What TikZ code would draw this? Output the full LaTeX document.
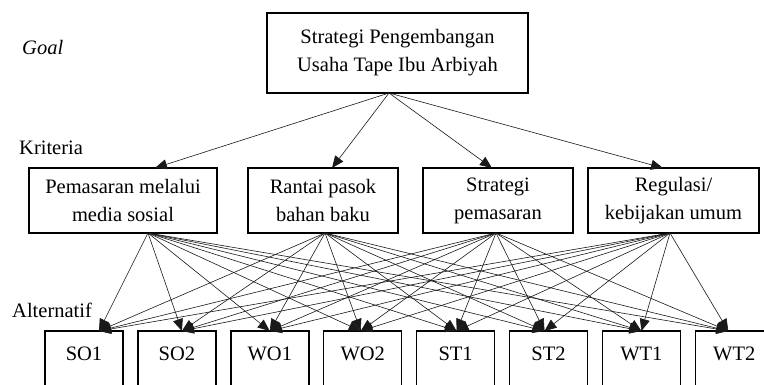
\documentclass[tikz,border=0pt]{standalone}
\usepackage{fontspec}
\setmainfont{Liberation Serif}
\usetikzlibrary{positioning,arrows.meta}

\begin{document}
\begin{tikzpicture}[
  x=1pt, y=-1pt,
  font=\fontsize{20.5}{28}\selectfont,
  >={Triangle[length=12pt,width=10pt]},
  box/.style={
    rectangle, draw=black, line width=1.5pt,
    inner sep=0pt, outer sep=0pt, align=center
  },
  goalbox/.style={box, minimum width=261pt, minimum height=80pt},
  kritbox/.style={box, minimum height=65pt},
  altbox/.style={box, minimum width=78pt, text height=29pt, text depth=41pt},
  lvl/.style={anchor=base west, inner sep=0pt},
  arr/.style={->, line width=0.6pt, draw=black!90}
]

\useasboundingbox (0,0) rectangle (764,385);
\clip (0,0) rectangle (764,385);

% goal
\node[goalbox] (goal) at (397.5,53) {Strategi Pengembangan\\Usaha Tape Ibu Arbiyah};

% kriteria
\node[kritbox, minimum width=188pt] (k1) at (123,200.5) {Pemasaran melalui\\media sosial};
\node[kritbox, minimum width=150pt] (k2) at (323,200.5) {Rantai pasok\\bahan baku};
\node[kritbox, minimum width=150pt] (k3) at (498,200.5) {Strategi\\pemasaran};
\node[kritbox, minimum width=171pt] (k4) at (673.5,200.5) {Regulasi/\\kebijakan umum};

% alternatif
\node[altbox] (so1) at (84,366) {SO1};
\node[altbox, right=14.9pt of so1] (so2) {SO2};
\node[altbox, right=14.9pt of so2] (wo1) {WO1};
\node[altbox, right=14.9pt of wo1] (wo2) {WO2};
\node[altbox, right=14.9pt of wo2] (st1) {ST1};
\node[altbox, right=14.9pt of st1] (st2) {ST2};
\node[altbox, right=14.9pt of st2] (wt1) {WT1};
\node[altbox, right=14.9pt of wt1] (wt2) {WT2};

% level labels
\node[lvl, font=\fontsize{20.5}{28}\selectfont\itshape] (goallbl) at (22,55) {Goal};
\node[lvl] (kritlbl) at (19,155) {Kriteria};
\node[lvl] (altlbl) at (12,317) {Alternatif};

\draw[arr] ([xshift=-8.5pt]goal.south) -- ([xshift=32pt]k1.north);
\draw[arr] ([xshift=-8.5pt]goal.south) -- ([xshift=9pt]k2.north);
\draw[arr] ([xshift=-8.5pt]goal.south) -- ([xshift=-6pt]k3.north);
\draw[arr] ([xshift=-8.5pt]goal.south) -- ([xshift=-10.5pt]k4.north);

\foreach \k/\dk in {k1/25,k2/2,k3/-2,k4/-3.5}
  \foreach \a/\da in {so1/15,so2/5,wo1/0,wo2/-2,st1/1,st2/-4,wt1/0,wt2/-6}
    \draw[arr] ([xshift=\dk pt]\k.south) -- ([xshift=\da pt]\a.north);

\end{tikzpicture}
\end{document}
